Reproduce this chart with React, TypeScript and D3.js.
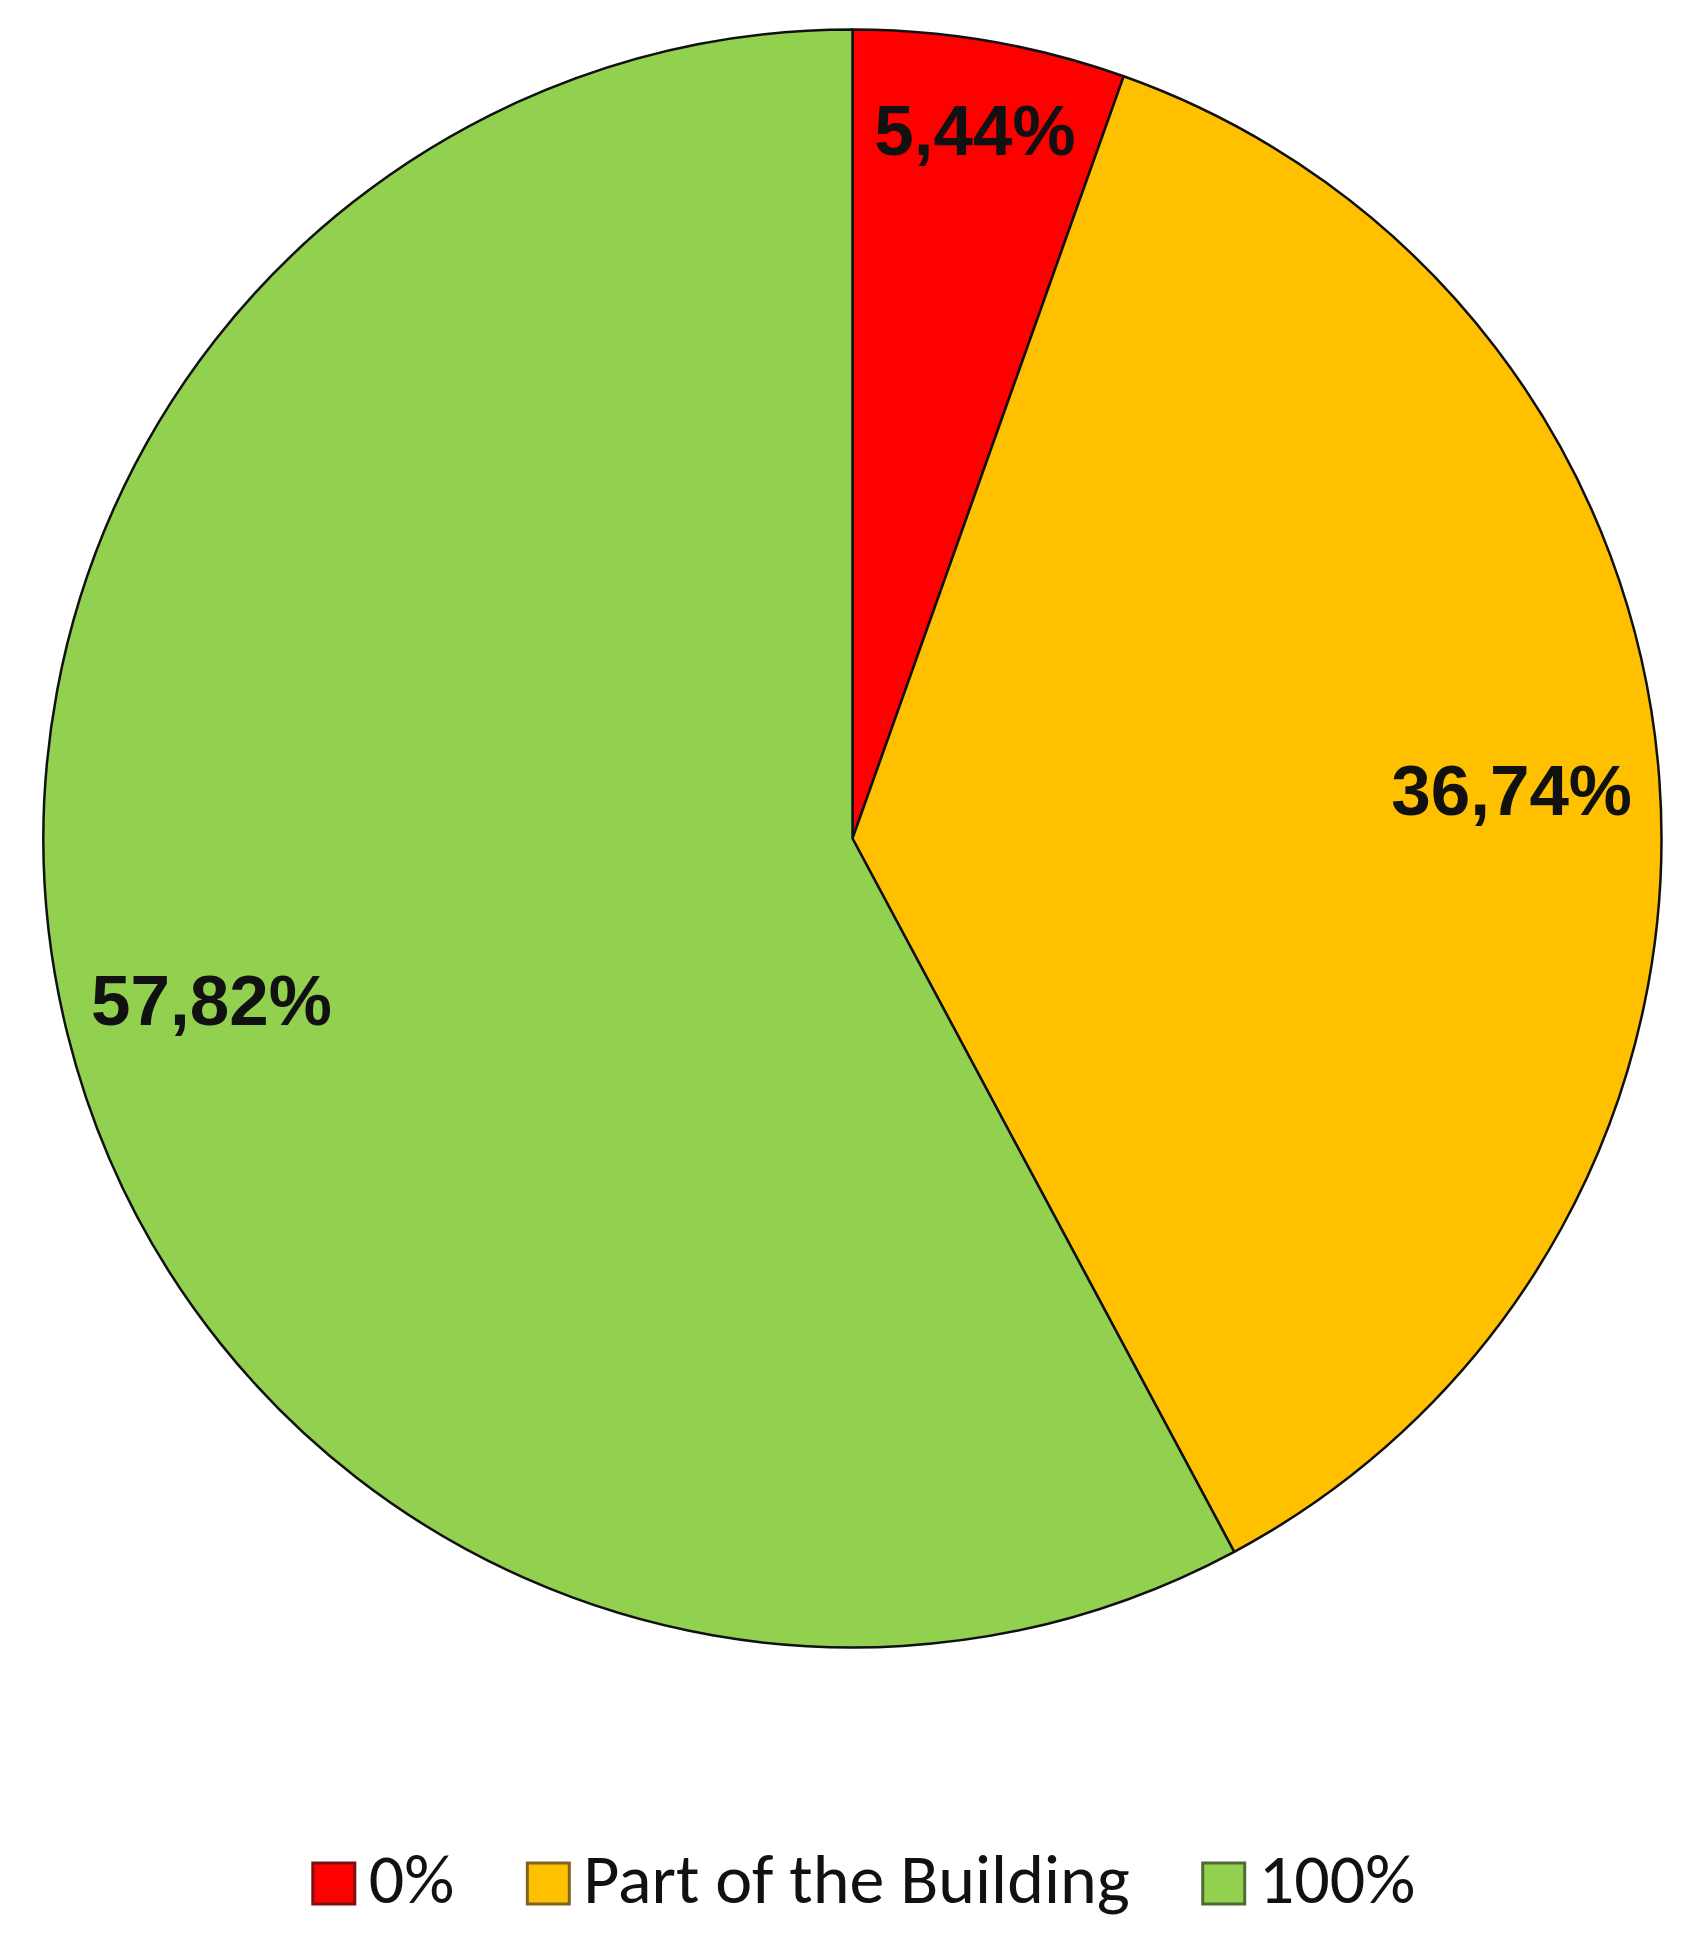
import React, { useEffect, useRef } from 'react';
import * as d3 from 'd3';

// slice data
const categories = ['0%', 'Part of the Building', '100%'];
const shares = [5.44, 36.74, 57.82];
const shareLabels = ['5,44%', '36,74%', '57,82%'];

const colors = ['#FF0000', '#FFC000', '#92D050'];
const legendStrokes = ['#7a1010', '#7f6420', '#4f6b35'];
const labelRadiusFactor = [0.89, 0.817, 0.817];

const App = () => {
    const svgRef = useRef<SVGSVGElement>(null);

    useEffect(() => {
        if (!svgRef.current) return;
        const svg = d3.select(svgRef.current);
        svg.selectAll('*').remove();

        const width = 1694;
        const height = 1938;
        const cx = 852.5;
        const cy = 838.5;
        const radius = 809;

        const pie = d3.pie<number>().sort(null).startAngle(0).endAngle(2 * Math.PI);
        const arcs = pie(shares);
        const arc = d3.arc<d3.PieArcDatum<number>>().innerRadius(0).outerRadius(radius);

        const g = svg.append('g').attr('transform', `translate(${cx},${cy})`);

        g.selectAll('path.slice')
            .data(arcs)
            .enter()
            .append('path')
            .attr('class', 'slice')
            .attr('d', arc)
            .attr('fill', (d, i) => colors[i])
            .attr('stroke', '#111')
            .attr('stroke-width', 2.5)
            .attr('stroke-linejoin', 'round');

        // percentage labels inside slices
        g.selectAll('text.label')
            .data(arcs)
            .enter()
            .append('text')
            .attr('class', 'label')
            .attr('transform', (d, i) => {
                const r = radius * labelRadiusFactor[i];
                const c = d3.arc<d3.PieArcDatum<number>>().innerRadius(r).outerRadius(r).centroid(d);
                return `translate(${c[0]},${c[1]})`;
            })
            .attr('text-anchor', 'middle')
            .attr('dy', '0.36em')
            .attr('font-family', '"Liberation Sans", Arial, sans-serif')
            .attr('font-weight', 'bold')
            .attr('font-size', 71)
            .attr('fill', '#111')
            .text((d, i) => shareLabels[i]);

        // legend along the bottom, centred
        const legend = svg.append('g');
        const box = 42;
        const gapBoxText = 14;
        const gapItems = 73;
        const legendY = 1863;
        const legendCenter = 864;

        const items = categories.map((c, i) => {
            const item = legend.append('g');
            item.append('rect')
                .attr('width', box)
                .attr('height', box - 1)
                .attr('y', legendY)
                .attr('fill', colors[i])
                .attr('stroke', legendStrokes[i])
                .attr('stroke-width', 3);
            const t = item.append('text')
                .attr('x', box + gapBoxText)
                .attr('y', legendY + 40)
                .attr('font-family', 'Carlito, Calibri, "Liberation Sans Narrow", "Liberation Sans", sans-serif')
                .attr('font-size', 70)
                .attr('fill', '#111')
                .text(c);
            const w = (t.node() as SVGTextElement).getComputedTextLength();
            return { item, w: box + gapBoxText + w };
        });

        const total = items.reduce((s, it) => s + it.w, 0) + gapItems * (items.length - 1);
        let x = legendCenter - total / 2;
        items.forEach(it => {
            it.item.attr('transform', `translate(${x},0)`);
            x += it.w + gapItems;
        });

        svg.attr('width', width).attr('height', height);
    }, []);

    return (
        <svg
            ref={svgRef}
            width={1694}
            height={1938}
            style={{ position: 'absolute', left: 0, top: 0, background: '#fff' }}
        />
    );
};

export default App;
